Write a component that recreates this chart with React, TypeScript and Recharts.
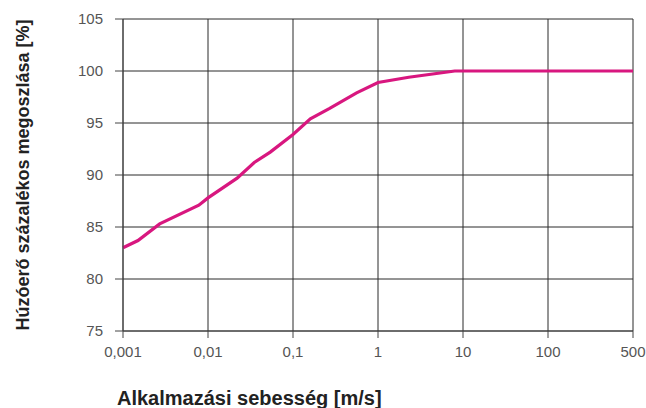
import { LineChart, Line, XAxis, YAxis, CartesianGrid, Label } from 'recharts'

// sebesség [m/s] és húzóerő megoszlás [%]
const speeds = [0.001, 0.0015, 0.0027, 0.0078, 0.01, 0.022, 0.035, 0.054, 0.1, 0.16, 0.27, 0.56, 1, 2.3, 8, 10, 100, 500]
const shares = [83.0, 83.7, 85.3, 87.1, 87.8, 89.7, 91.2, 92.2, 93.9, 95.4, 96.4, 97.9, 98.9, 99.4, 100, 100, 100, 100]

const xTickLabels = ['0,001', '0,01', '0,1', '1', '10', '100', '500']
const yTicks = [75, 80, 85, 90, 95, 100, 105]

// the axis is log-like up to 100, the last step 100..500 gets one full column
const toPos = (v: number) => (v <= 100 ? Math.log10(v) + 3 : 5 + Math.log(v / 100) / Math.log(5))

const data = speeds.map((s, i) => ({ pos: toPos(s), value: shares[i] }))

const font = '"Liberation Sans", Arial, Helvetica, sans-serif'
const tickStyle = { fontSize: 15, fill: '#555', fontFamily: font }

export default function App() {
  return (
    <div style={{ position: 'absolute', left: 0, top: 0, background: '#fff' }}>
      <LineChart width={646} height={408} data={data} margin={{ top: 19, right: 13, left: 0, bottom: 0 }}>
        <CartesianGrid stroke="#2b2b2b" strokeWidth={1} />
        <XAxis
          dataKey="pos"
          type="number"
          domain={[0, 6]}
          ticks={[0, 1, 2, 3, 4, 5, 6]}
          tickFormatter={(v: number) => xTickLabels[v]}
          height={77}
          tickSize={7}
          tickMargin={8}
          stroke="#444"
          tick={tickStyle}
        >
          <Label
            content={({ viewBox }: any) => (
              <text
                x={viewBox.x - 6}
                y={viewBox.y + viewBox.height - 3}
                fontSize={20}
                fontWeight="bold"
                fontFamily={font}
                fill="#222"
              >
                Alkalmazási sebesség [m/s]
              </text>
            )}
          />
        </XAxis>
        <YAxis
          type="number"
          domain={[75, 105]}
          ticks={yTicks}
          width={123}
          tickSize={8}
          tickMargin={12}
          stroke="#444"
          tick={tickStyle}
        >
          <Label
            content={({ viewBox }: any) => (
              <text
                x={viewBox.x + 29}
                y={viewBox.y + viewBox.height / 2}
                transform={`rotate(-90 ${viewBox.x + 29} ${viewBox.y + viewBox.height / 2})`}
                textAnchor="middle"
                fontSize={18}
                fontWeight="bold"
                fontFamily={font}
                fill="#222"
              >
                Húzóerő százalékos megoszlása [%]
              </text>
            )}
          />
        </YAxis>
        <Line
          type="linear"
          dataKey="value"
          stroke="#d8177f"
          strokeWidth={3.2}
          dot={false}
          isAnimationActive={false}
        />
      </LineChart>
    </div>
  )
}
